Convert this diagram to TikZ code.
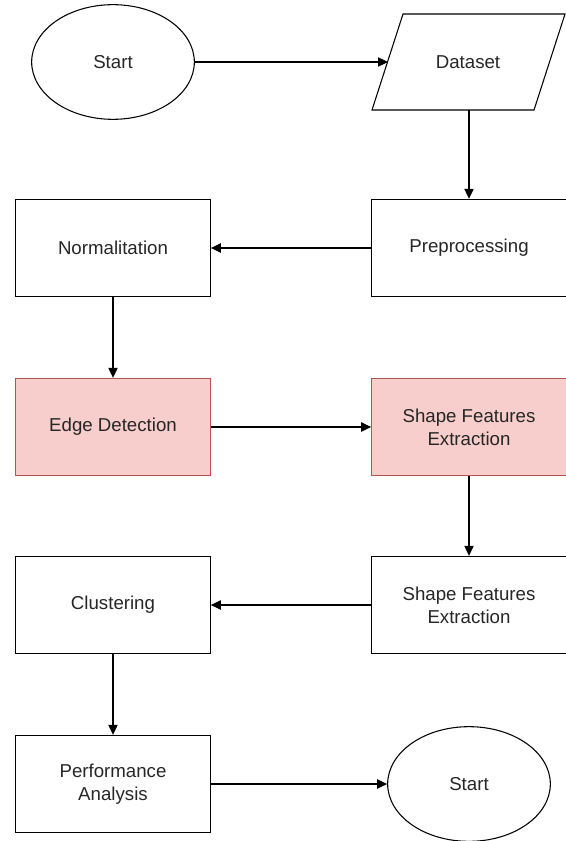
\documentclass[tikz,border=0pt]{standalone}
\usepackage{fontspec}
\setmainfont{Liberation Sans}
\usetikzlibrary{shapes.geometric,arrows.meta}

\definecolor{boxpink}{HTML}{F8CECC}
\definecolor{boxred}{HTML}{B85450}

\tikzset{
  every node/.style={font=\fontsize{14}{17.5}\selectfont, text=black!85, align=center},
  stepbox/.style={draw, line width=0.8pt, minimum width=146pt, minimum height=73pt},
  hotbox/.style={stepbox, draw=boxred, fill=boxpink},
  terminal/.style={ellipse, draw, line width=0.8pt, minimum width=122pt, minimum height=86pt},
  flow/.style={-{Triangle[length=7.5pt,width=7pt]}, line width=0.8pt},
}

\begin{document}
\begin{tikzpicture}[x=0.75pt, y=-0.75pt]

  \useasboundingbox (0,0) rectangle (566,841);

  % Top row
  \node[terminal] (start)   at (113,62)  {Start};
  \draw[line width=0.8pt] (372,110) -- (403,14) -- (565,14) -- (534,110) -- cycle;
  \node (dataset) at (468,62) {Dataset};
  \coordinate (dsleft)  at (388,62);
  \coordinate (dsbottom) at (469,110);

  % Preparation of the images
  \node[stepbox]  (prep)    at (469,248) {Preprocessing};
  \node[stepbox]  (norm)    at (113,248) {Normalitation};

  % Highlighted steps
  \node[hotbox]   (edge)    at (113,427) {Edge Detection};
  \node[hotbox]   (shapeA)  at (469,427) {Shape Features\\Extraction};

  % Grouping and evaluation
  \node[stepbox]  (shapeB)  at (469,605) {Shape Features\\Extraction};
  \node[stepbox]  (clust)   at (113,605) {Clustering};
  \node[stepbox]  (perf)    at (113,784) {Performance\\Analysis};
  \node[terminal] (stop)    at (469,784) {Start};

  % Connectors
  \draw[flow] (start.east) -- (dsleft);
  \draw[flow] (dsbottom) -- (prep.north);
  \draw[flow] (prep.west) -- (norm.east);
  \draw[flow] (norm.south) -- (edge.north);
  \draw[flow] (edge.east) -- (shapeA.west);
  \draw[flow] (shapeA.south) -- (shapeB.north);
  \draw[flow] (shapeB.west) -- (clust.east);
  \draw[flow] (clust.south) -- (perf.north);
  \draw[flow] (perf.east) -- (stop.west);

\end{tikzpicture}
\end{document}
